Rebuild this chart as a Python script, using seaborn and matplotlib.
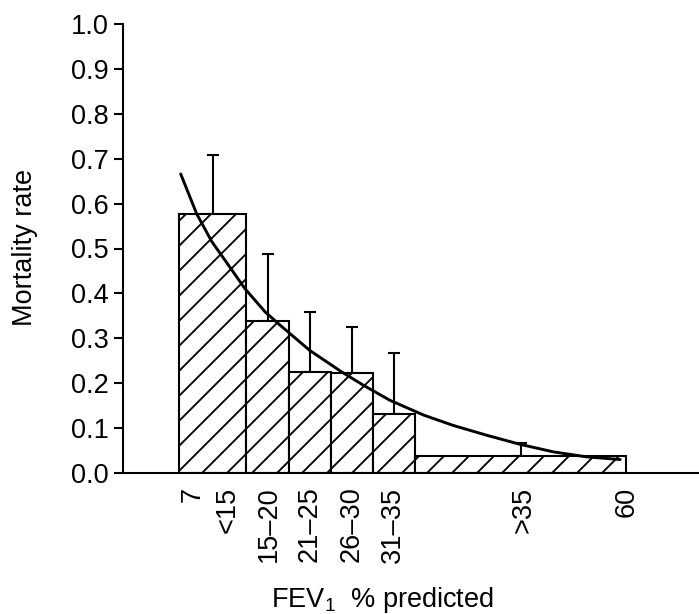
import matplotlib
matplotlib.use('Agg')
import numpy as np
import matplotlib.pyplot as plt
import seaborn as sns

# FEV1 % predicted bins (edges) and mortality rate per bin
bin_edges = [7, 15, 20, 25, 30, 35, 60]
mortality = [0.577, 0.339, 0.226, 0.223, 0.131, 0.038]
upper_ci = [0.708, 0.488, 0.359, 0.326, 0.267, 0.066]

# fitted curve
curve_x = [7.2, 9.1, 10.9, 12.6, 14.8, 17.2, 19.0, 22.5, 26.3, 28.9,
           32.0, 36.0, 39.5, 43.5, 47.4, 51.4, 55.3, 59.3]
curve_y = [0.666, 0.577, 0.515, 0.470, 0.411, 0.359, 0.329, 0.273, 0.225, 0.195,
           0.162, 0.129, 0.106, 0.084, 0.064, 0.047, 0.036, 0.030]

tick_labels = ['7', '<15', '15\u201320', '21\u201325', '26\u201330', '31\u201335', '>35', '60']
tick_pos = [8.6, 12.8, 17.6, 22.5, 27.5, 32.4, 47.8, 60.1]
y_ticks = [0.0, 0.1, 0.2, 0.3, 0.4, 0.5, 0.6, 0.7, 0.8, 0.9, 1.0]

sns.set_theme(style='ticks')
plt.rcParams['font.family'] = ['Liberation Sans', 'DejaVu Sans']
plt.rcParams['hatch.linewidth'] = 0.9
plt.rcParams['axes.linewidth'] = 1.0

DPI = 150
fig = plt.figure(figsize=(699 / DPI, 614 / DPI), dpi=DPI)
ax = fig.add_axes([123 / 699, 1 - 473 / 614, (699 - 123) / 699, (473 - 24) / 614])

edges = np.array(bin_edges, dtype=float)
widths = np.diff(edges)
centers = edges[:-1] + widths / 2
rates = np.array(mortality)
err_up = np.array(upper_ci) - rates

ax.bar(edges[:-1], rates, width=widths, align='edge', facecolor='white',
       edgecolor='black', linewidth=1.0, hatch='//', zorder=2)
ax.errorbar(centers, rates, yerr=[np.zeros_like(rates), err_up], fmt='none',
            ecolor='black', elinewidth=1.0, capsize=2.9, capthick=1.0, zorder=1)
sns.lineplot(x=curve_x, y=curve_y, ax=ax, color='black', linewidth=1.4,
             sort=False, zorder=3)

ax.set_xlim(0.36, 68.65)
ax.set_ylim(0, 1.0)
ax.set_yticks(y_ticks)
ax.set_yticklabels([f'{v:.1f}' for v in y_ticks], fontsize=13)
ax.set_xticks(tick_pos)
ax.set_xticklabels(tick_labels, rotation=90, fontsize=13)
ax.tick_params(axis='y', direction='out', length=4.3, width=1.0, pad=2.4, colors='black')
ax.tick_params(axis='x', length=0, pad=6.5, colors='black')

for side in ['top', 'right']:
    ax.spines[side].set_visible(False)
for side in ['left', 'bottom']:
    ax.spines[side].set_color('black')
    ax.spines[side].set_linewidth(1.0)

fig.text(382 / 699, 1 - 607 / 614, r'FEV$_\mathregular{1}$  % predicted',
         ha='center', va='baseline', fontsize=13, color='black')
fig.text(25 / 699, 1 - 247 / 614, 'Mortality rate', rotation=90,
         ha='center', va='center', fontsize=13, color='black')

fig.savefig('out.png', dpi=DPI)
